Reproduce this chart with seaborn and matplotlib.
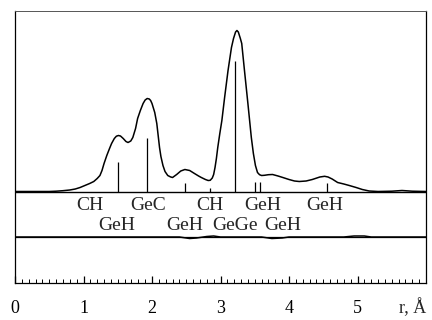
import numpy as np
import pandas as pd
import matplotlib
matplotlib.use("Agg")
import matplotlib.pyplot as plt
import seaborn as sns

# ---- data (r in Å, intensity in arbitrary units) ----
r_curve = [0.0, 0.5, 0.6, 0.7, 0.8, 0.88, 0.95, 1.02, 1.09, 1.15, 1.2, 1.24, 1.27, 1.3,
           1.34, 1.38, 1.41, 1.45, 1.48, 1.51, 1.54, 1.58, 1.62, 1.65, 1.69, 1.72, 1.76,
           1.79, 1.83, 1.87, 1.9, 1.93, 1.96, 1.98, 2.0, 2.04, 2.07, 2.09, 2.11, 2.13,
           2.16, 2.19, 2.23, 2.27, 2.3, 2.36, 2.42, 2.48, 2.55, 2.62, 2.68, 2.72, 2.78,
           2.82, 2.85, 2.88, 2.9, 2.92, 2.94, 2.96, 2.99, 3.02, 3.06, 3.11, 3.16, 3.19,
           3.22, 3.24, 3.26, 3.29, 3.31, 3.35, 3.4, 3.45, 3.48, 3.51, 3.54, 3.57, 3.6,
           3.64, 3.7, 3.76, 3.84, 3.91, 4.0, 4.08, 4.15, 4.25, 4.34, 4.45, 4.52, 4.57,
           4.63, 4.71, 4.8, 4.88, 4.98, 5.07, 5.17, 5.3, 5.5, 5.65, 5.8, 6.0]
g_curve = [0, 0, 0.3, 0.8, 1.5, 2.5, 4, 6, 8, 10, 13, 16, 21, 28,
           36, 43, 48, 53, 55.3, 56, 55.5, 53, 50, 49, 50.5, 54, 63,
           73, 81, 88, 91.5, 93, 92.5, 91, 88, 79, 68, 56, 44, 35,
           26, 20, 16, 14.6, 14, 17, 20.5, 22, 21, 18, 15.5, 14, 12,
           11, 11.2, 13.5, 17, 24, 33, 44, 58, 71, 94, 121, 144, 153,
           159.5, 161, 159.5, 153, 148, 121, 88, 54, 38, 26, 19, 16.8, 16,
           16.2, 16.8, 17, 15.5, 14, 12, 10.5, 10, 10.5, 12, 14.5, 15.2, 14.5,
           12.5, 9, 7.5, 6, 4, 2, 0.5, 0, 0.3, 1, 0.3, 0]

r_diff = [0.0, 2.4, 2.55, 2.65, 2.8, 2.9, 3.0, 3.6, 3.75, 3.9, 4.0, 4.8, 4.95, 5.1, 5.2, 6.0]
g_diff = [0, 0, -1.5, -1, 0.5, 1, 0, 0, -1.5, -1, 0, 0, 1, 1, 0, 0]

stick_r = [1.50, 1.93, 2.48, 2.84, 3.21, 3.50, 3.57, 4.55]
stick_h = [30, 54, 9, 4, 131, 10, 10, 9]

labels_row1 = ["CH", "GeC", "CH", "GeH", "GeH"]
labels_row1_r = [1.09, 1.94, 2.84, 3.62, 4.52]
labels_row2 = ["GeH", "GeH", "GeGe", "GeH"]
labels_row2_r = [1.49, 2.48, 3.21, 3.91]

xtick_vals = [0, 1, 2, 3, 4, 5]
xtick_labels = ["0", "1", "2", "3", "4", "5"]
axis_label = "r, Å"

# ---- layout ----
base_main = 0.0
base_diff = -45.5
row1_y = -13.5
row2_y = -33.5

sns.set_style("white")
plt.rcParams["font.family"] = ["Liberation Serif", "DejaVu Serif"]

fig = plt.figure(figsize=(4.32, 3.2), dpi=100)
ax = fig.add_axes([15 / 432, 1 - 283 / 320, (426 - 15) / 432, (283 - 11) / 320])

df_main = pd.DataFrame({"r": r_curve, "g": np.array(g_curve) + base_main})
df_diff = pd.DataFrame({"r": r_diff, "g": np.array(g_diff) + base_diff})

sns.lineplot(data=df_main, x="r", y="g", ax=ax, color="black", lw=1.1, sort=False)
sns.lineplot(data=df_diff, x="r", y="g", ax=ax, color="black", lw=1.1, sort=False)

ax.axhline(base_main, color="black", lw=1.0)
ax.axhline(base_diff, color="black", lw=0.9)
ax.vlines(stick_r, base_main, np.array(stick_h) + base_main, color="black", lw=0.9)

for t, x in zip(labels_row1, labels_row1_r):
    ax.text(x, row1_y, t, ha="center", va="center", fontsize=14)
for t, x in zip(labels_row2, labels_row2_r):
    ax.text(x, row2_y, t, ha="center", va="center", fontsize=14)

ax.set_xlim(0, 6)
ax.set_ylim(-91.5, 180.5)
ax.set_xlabel("")
ax.set_ylabel("")
ax.set_yticks([])
ax.set_xticks(xtick_vals)
ax.set_xticklabels(xtick_labels, fontsize=13)
ax.set_xticks(np.arange(0, 6.01, 0.1), minor=True)
ax.tick_params(axis="x", which="both", bottom=True, top=False)
ax.tick_params(axis="x", which="major", direction="in", length=5, width=0.9,
               pad=12, colors="black")
ax.tick_params(axis="x", which="minor", direction="in", length=3, width=0.7,
               color="black")
ax.text(5.8, -0.09, axis_label, transform=ax.get_xaxis_transform(),
        ha="center", va="center", fontsize=13)

for side in ["left", "right", "bottom"]:
    ax.spines[side].set_color("black")
    ax.spines[side].set_linewidth(0.9)
ax.spines["top"].set_color("#555555")
ax.spines["top"].set_linewidth(0.7)

fig.savefig("out.png", dpi=100, facecolor="white")
